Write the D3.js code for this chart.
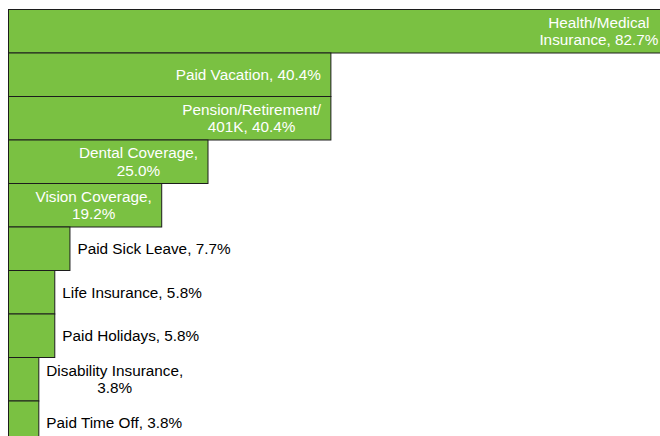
<!DOCTYPE html>
<html><head><meta charset="utf-8">
<script src="https://cdn.jsdelivr.net/npm/d3@7"></script>
<style>html,body{margin:0;padding:0;background:#fff;overflow:hidden}</style>
</head><body>
<svg id="c" width="660" height="436"></svg>
<script>
const categories = ["Health/Medical Insurance","Paid Vacation","Pension/Retirement/ 401K","Dental Coverage","Vision Coverage","Paid Sick Leave","Life Insurance","Paid Holidays","Disability Insurance","Paid Time Off"];
const values = [82.7,40.4,40.4,25.0,19.2,7.7,5.8,5.8,3.8,3.8];
const labelLines = [
  ["Health/Medical","Insurance, 82.7%"],
  ["Paid Vacation, 40.4%"],
  ["Pension/Retirement/","401K, 40.4%"],
  ["Dental Coverage,","25.0%"],
  ["Vision Coverage,","19.2%"],
  ["Paid Sick Leave, 7.7%"],
  ["Life Insurance, 5.8%"],
  ["Paid Holidays, 5.8%"],
  ["Disability Insurance,","3.8%"],
  ["Paid Time Off, 3.8%"]
];

const svg = d3.select("#c");
const fontSize = 15.3, lineH = 17.5, cap = 0.716*fontSize;
const x = d3.scaleLinear().domain([0,100]).range([8.5, 8.5+798]);
const y = d3.scaleBand().domain(categories).range([9.5, 9.5+43.5*10]).padding(0);
const data = categories.map((c,i)=>({c, v:values[i], lines:labelLines[i]}));

svg.selectAll("rect.bar").data(data).join("rect")
  .attr("class","bar")
  .attr("x", x(0)).attr("y", d=>y(d.c))
  .attr("width", d=>x(d.v)-x(0)).attr("height", y.bandwidth())
  .attr("fill","#7ac142").attr("stroke","#1c1c1c").attr("stroke-width",1);

const measurer = svg.append("text").attr("font-family","'Liberation Sans', Arial, sans-serif").attr("font-size",fontSize).attr("visibility","hidden");
function tw(s){ measurer.text(s); return measurer.node().getComputedTextLength(); }

data.forEach(d=>{
  const end = x(d.v);
  const inside = d.v > 15;
  const widths = d.lines.map(tw);
  const maxW = d3.max(widths);
  const cx = inside ? end - 10 - maxW/2 : end + 7.5 + maxW/2;
  const cy = y(d.c) + y.bandwidth()/2;
  const n = d.lines.length;
  const b0 = cy - (n-1)*lineH/2 + cap/2;
  const t = svg.append("text")
    .attr("font-family","'Liberation Sans', Arial, sans-serif")
    .attr("font-size",fontSize)
    .attr("text-anchor","middle")
    .attr("fill", inside ? "#ffffff" : "#000000");
  d.lines.forEach((ln,i)=>{
    t.append("tspan").attr("x",cx).attr("y",b0+i*lineH).text(ln);
  });
});
measurer.remove();
</script>
</body></html>
